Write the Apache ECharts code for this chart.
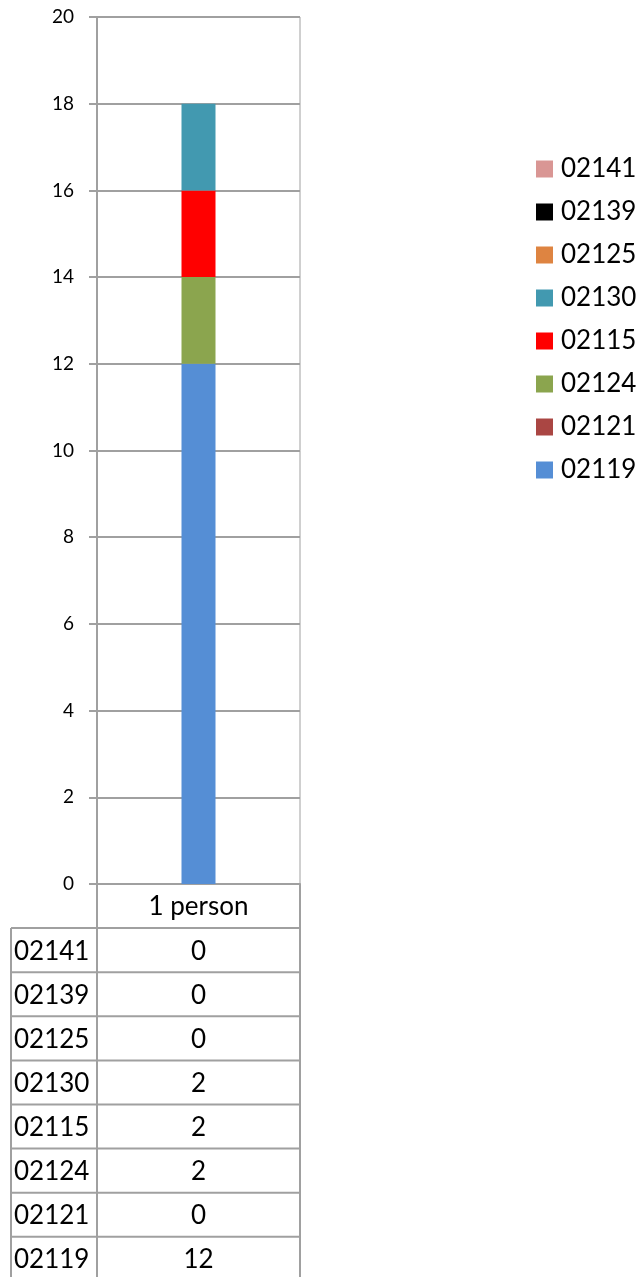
<!DOCTYPE html>
<html>
<head>
<meta charset="utf-8">
<script src="https://cdn.jsdelivr.net/npm/echarts@6/dist/echarts.min.js"></script>
<style>html,body{margin:0;padding:0;background:#fff;}#c{width:644px;height:1277px;}</style>
</head>
<body>
<div id="c"></div>
<script>
var categories = ['1 person'];
// stacking order bottom -> top
var seriesNames = ['02119', '02121', '02124', '02115', '02130', '02125', '02139', '02141'];
var v02119 = [12];
var v02121 = [0];
var v02124 = [2];
var v02115 = [2];
var v02130 = [2];
var v02125 = [0];
var v02139 = [0];
var v02141 = [0];
var seriesValues = [v02119, v02121, v02124, v02115, v02130, v02125, v02139, v02141];
var seriesColors = ['#558ED5', '#AA4643', '#8BA54E', '#FF0000', '#4299B0', '#DE8441', '#000000', '#D99694'];
var yTicks = [0, 2, 4, 6, 8, 10, 12, 14, 16, 18, 20];

var FONT = 'Lato, "Open Sans", sans-serif';
var gridLeft = 97, gridTop = 17, gridW = 203, gridH = 867;
var tableLeft = 11, rowH = 44.1;
var lineColor = '#A0A0A0';
var tableFont = '26px ' + FONT;

var chart = echarts.init(document.getElementById('c'));

var series = seriesNames.map(function (n, i) {
  return {
    name: n, type: 'bar', stack: 'total', data: seriesValues[i],
    barWidth: 34, itemStyle: { color: seriesColors[i] }
  };
});

var graphics = [];
var bottom = gridTop + gridH;
var headerBottom = bottom + rowH;
var order = seriesNames.slice().reverse();
var orderVals = seriesValues.slice().reverse();
var tableBottom = headerBottom + rowH * order.length;

graphics.push({ type: 'text', silent: true, style: { text: categories[0], x: gridLeft + gridW / 2, y: bottom + rowH / 2 + 1, align: 'center', verticalAlign: 'middle', font: tableFont, fill: '#000' } });
graphics.push({ type: 'line', shape: { x1: gridLeft, y1: bottom, x2: gridLeft, y2: tableBottom }, style: { stroke: lineColor, lineWidth: 2 } });
graphics.push({ type: 'line', shape: { x1: gridLeft + gridW, y1: bottom, x2: gridLeft + gridW, y2: tableBottom }, style: { stroke: lineColor, lineWidth: 2 } });
graphics.push({ type: 'line', shape: { x1: tableLeft, y1: headerBottom, x2: tableLeft, y2: tableBottom }, style: { stroke: lineColor, lineWidth: 2 } });
for (var r = 0; r < order.length; r++) {
  var y0 = headerBottom + r * rowH;
  graphics.push({ type: 'line', shape: { x1: tableLeft, y1: y0, x2: gridLeft + gridW, y2: y0 }, style: { stroke: lineColor, lineWidth: 2 } });
  graphics.push({ type: 'text', silent: true, style: { text: order[r], x: tableLeft + 3, y: y0 + rowH / 2 + 1, align: 'left', verticalAlign: 'middle', font: tableFont, fill: '#000' } });
  graphics.push({ type: 'text', silent: true, style: { text: String(orderVals[r][0]), x: gridLeft + gridW / 2, y: y0 + rowH / 2 + 1, align: 'center', verticalAlign: 'middle', font: tableFont, fill: '#000' } });
}

chart.setOption({
  animation: false,
  textStyle: { fontFamily: FONT },
  grid: { left: gridLeft, top: gridTop, width: gridW, height: gridH, show: true, borderColor: lineColor, borderWidth: 1, containLabel: false },
  legend: {
    data: order, orient: 'vertical', left: 531, top: 151,
    itemWidth: 17, itemHeight: 17, itemGap: 17, icon: 'rect',
    textStyle: { fontSize: 26, lineHeight: 26, color: '#000', fontFamily: FONT, padding: [0, 0, 0, 3] }
  },
  xAxis: {
    type: 'category', data: categories,
    axisLine: { show: true, lineStyle: { color: lineColor, width: 2 } },
    axisTick: { show: false }, axisLabel: { show: false }
  },
  yAxis: {
    type: 'value', min: yTicks[0], max: yTicks[yTicks.length - 1], interval: 2,
    axisLine: { show: true, lineStyle: { color: lineColor, width: 2 } },
    axisTick: { show: true, length: 8, lineStyle: { color: lineColor, width: 2 } },
    axisLabel: { show: true, fontSize: 19, color: '#000', margin: 23, fontFamily: FONT },
    splitLine: { show: true, lineStyle: { color: lineColor, width: 2 } }
  },
  series: series,
  graphic: graphics
});
</script>
</body>
</html>
